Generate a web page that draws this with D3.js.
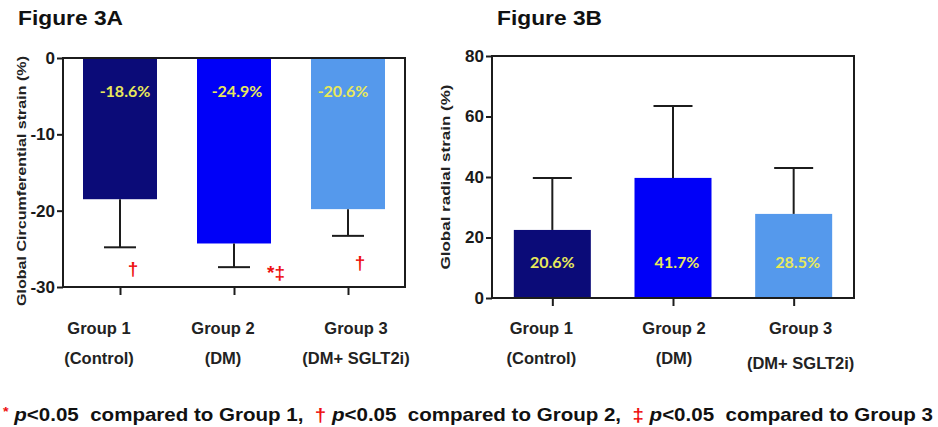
<!DOCTYPE html>
<html><head><meta charset="utf-8">
<script src="https://cdn.jsdelivr.net/npm/d3@7"></script>
<style>
html,body{margin:0;padding:0;background:#fff;}
svg{display:block;}
</style></head>
<body>
<svg id="c" width="938" height="427"></svg>
<script>
// ---- data ----
const categories = ["Group 1", "Group 2", "Group 3"];
const subLabels = ["(Control)", "(DM)", "(DM+ SGLT2i)"];
const barColors = ["#0b0b78", "#0000f8", "#5599ec"];

const gcsMean = [-18.5, -24.3, -19.8];
const gcsErrEnd = [-24.8, -27.4, -23.3];
const gcsLabels = ["-18.6%", "-24.9%", "-20.6%"];
const gcsTicks = [0, -10, -20, -30];
const gcsSig = ["†", "*‡", "†"];

const grsMean = [22.5, 39.7, 27.8];
const grsErrEnd = [39.7, 63.5, 43.0];
const grsLabels = ["20.6%", "41.7%", "28.5%"];
const grsTicks = [0, 20, 40, 60, 80];

const svg = d3.select("#c");
const FONT = "'Liberation Sans', Arial, sans-serif";
const LABELFONT = "Lato, 'Open Sans', sans-serif";
const axisCol = "#1c1c1c";

function panel(cfg) {
  const g = svg.append("g");
  const x = d3.scalePoint().domain(categories).range([cfg.x0, cfg.x1]).padding(0.5);
  const y = d3.scaleLinear().domain(cfg.domain).range([cfg.y0, cfg.y1]);
  const zeroY = y(0);

  g.selectAll("rect.bar").data(categories).enter().append("rect")
    .attr("x", d => x(d) - cfg.barW / 2)
    .attr("width", cfg.barW)
    .attr("y", (d, i) => Math.min(y(cfg.mean[i]), zeroY))
    .attr("height", (d, i) => Math.abs(y(cfg.mean[i]) - zeroY))
    .attr("fill", (d, i) => barColors[i]);

  g.selectAll("line.whisk").data(categories).enter().append("line")
    .attr("x1", d => x(d)).attr("x2", d => x(d))
    .attr("y1", (d, i) => y(cfg.mean[i])).attr("y2", (d, i) => y(cfg.err[i]))
    .attr("stroke", axisCol).attr("stroke-width", 2);
  g.selectAll("line.cap").data(categories).enter().append("line")
    .attr("x1", d => x(d) - cfg.capW / 2).attr("x2", d => x(d) + cfg.capW / 2)
    .attr("y1", (d, i) => y(cfg.err[i])).attr("y2", (d, i) => y(cfg.err[i]))
    .attr("stroke", axisCol).attr("stroke-width", 2);

  g.append("rect").attr("x", cfg.x0).attr("y", Math.min(cfg.y0, cfg.y1))
    .attr("width", cfg.x1 - cfg.x0).attr("height", Math.abs(cfg.y1 - cfg.y0))
    .attr("fill", "none").attr("stroke", axisCol).attr("stroke-width", 2);

  const ya = d3.axisLeft(y).tickValues(cfg.ticks).tickSize(6).tickPadding(2).tickFormat(d => String(d));
  const yg = g.append("g").attr("transform", `translate(${cfg.x0},0)`).call(ya);
  yg.select(".domain").remove();
  yg.selectAll(".tick line").attr("stroke", axisCol).attr("stroke-width", 2);
  yg.selectAll(".tick text").attr("font-family", FONT).attr("font-weight", "bold")
    .attr("font-size", 17).attr("fill", "#1a1a1a");

  const xa = d3.axisBottom(x).tickSize(8).tickFormat("");
  const xg = g.append("g").attr("transform", `translate(0,${cfg.xAxisY})`).call(xa);
  xg.select(".domain").remove();
  xg.selectAll(".tick line").attr("stroke", axisCol).attr("stroke-width", 2);

  g.selectAll("text.cat").data(categories).enter().append("text")
    .attr("x", (d, i) => x(d) + cfg.catShift[i]).attr("y", 334)
    .attr("text-anchor", "middle").attr("font-family", FONT).attr("font-weight", "bold")
    .attr("font-size", 16.5).attr("fill", "#222").text(d => d);
  g.selectAll("text.sub").data(subLabels).enter().append("text")
    .attr("x", (d, i) => x(categories[i]) + cfg.catShift[i]).attr("y", (d, i) => cfg.subY[i])
    .attr("text-anchor", "middle").attr("font-family", FONT).attr("font-weight", "bold")
    .attr("font-size", 16.5).attr("fill", "#222").text(d => d);

  g.selectAll("text.val").data(cfg.labels).enter().append("text")
    .attr("x", (d, i) => x(categories[i]) + cfg.valShift[i]).attr("y", cfg.valY)
    .attr("text-anchor", "middle").attr("font-family", LABELFONT).attr("font-weight", "bold")
    .attr("font-size", 16).attr("fill", "#e8e85a").text(d => d);

  g.append("text")
    .attr("transform", `translate(${cfg.ylabX},${cfg.ylabY}) rotate(-90)`)
    .attr("text-anchor", "middle").attr("dominant-baseline", "central")
    .attr("font-family", FONT).attr("font-weight", "bold").attr("font-size", 13.5)
    .attr("fill", "#222").attr("textLength", cfg.ylabLen).attr("lengthAdjust", "spacingAndGlyphs")
    .text(cfg.ylab);

  g.append("text").attr("x", cfg.titleX).attr("y", 25)
    .attr("font-family", FONT).attr("font-weight", "bold").attr("font-size", 19.5)
    .attr("fill", "#111").attr("textLength", 105).attr("lengthAdjust", "spacingAndGlyphs")
    .text(cfg.title);

  return { g, x, y };
}

const A = panel({
  x0: 63, x1: 405, y0: 58, y1: 287, domain: [0, -30], xAxisY: 287,
  mean: gcsMean, err: gcsErrEnd, labels: gcsLabels, ticks: gcsTicks,
  barW: 74, capW: 32, catShift: [-21, -11, 8], subY: [364, 364, 364],
  valShift: [5, 3, -5], valY: 97,
  ylab: "Global Circumferential strain (%)", ylabX: 21, ylabY: 181, ylabLen: 250,
  title: "Figure 3A", titleX: 18
});

const sigDx = [13, 33, 12];
const sigDy = [28, 12, 33];
A.g.selectAll("text.sig").data(gcsSig).enter().append("text")
  .attr("x", (d, i) => A.x(categories[i]) + sigDx[i])
  .attr("y", (d, i) => A.y(gcsErrEnd[i]) + sigDy[i])
  .attr("text-anchor", (d, i) => d.length > 1 ? "start" : "middle")
  .attr("font-family", FONT).attr("font-weight", "bold").attr("font-size", 19)
  .attr("fill", "#ee1111").text(d => d);

panel({
  x0: 492, x1: 854, y0: 298, y1: 56, domain: [0, 80], xAxisY: 298,
  mean: grsMean, err: grsErrEnd, labels: grsLabels, ticks: grsTicks,
  barW: 77, capW: 39, catShift: [-11, 1, 7], subY: [364, 364, 369],
  valShift: [0, 4, 4], valY: 268,
  ylab: "Global radial strain (%)", ylabX: 445, ylabY: 177, ylabLen: 185,
  title: "Figure 3B", titleX: 497
});

const foot = svg.append("text").attr("x", 3).attr("y", 421)
  .attr("font-family", FONT).attr("font-weight", "bold").attr("font-size", 18.5)
  .attr("fill", "#111").attr("textLength", 930).attr("lengthAdjust", "spacingAndGlyphs")
  .style("white-space", "pre");
const parts = [
  ["*", "#ee1111", false, 13, -5], [" ", null, false, null, 5], ["p", null, true], ["<0.05  compared to Group 1,  ", null, false],
  ["†", "#ee1111", false], [" ", null, false], ["p", null, true], ["<0.05  compared to Group 2,  ", null, false],
  ["‡", "#ee1111", false], [" ", null, false], ["p", null, true], ["<0.05  compared to Group 3", null, false]
];
parts.forEach(p => {
  const t = foot.append("tspan").text(p[0]);
  if (p[1]) t.attr("fill", p[1]);
  if (p[2]) t.attr("font-style", "italic");
  if (p[3]) t.attr("font-size", p[3]);
  if (p[4]) t.attr("dy", p[4]);
});
</script>
</body></html>
